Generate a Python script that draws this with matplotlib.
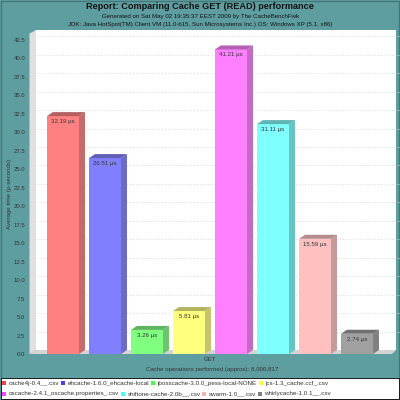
import matplotlib
matplotlib.use("Agg")
import matplotlib.pyplot as plt
from matplotlib.patches import Rectangle, Polygon
from matplotlib.transforms import Affine2D

plt.rcParams['font.family'] = ['Liberation Sans', 'DejaVu Sans']

names = ["cache4j-0.4__.csv", "ehcache-1.6.0_ehcache-local", "jbosscache-3.0.0_pess-local-NONE",
         "jcs-1.3_cache.ccf_.csv", "oscache-2.4.1_oscache.properties_.csv", "shiftone-cache-2.0b__.csv",
         "swarm-1.0__.csv", "whirlycache-1.0.1__.csv"]
values = [32.19, 26.51, 3.26, 5.81, 41.21, 31.11, 15.59, 2.74]
labels = ["32.19 µs", "26.51 µs", "3.26 µs", "5.81 µs", "41.21 µs", "31.11 µs", "15.59 µs", "2.74 µs"]
front = ["#ff8080", "#8080ff", "#80ff80", "#ffff80", "#ff80ff", "#80ffff", "#ffc0c0", "#a0a0a0"]
side = ["#c46c6c", "#6c6cc4", "#6cc46c", "#c4c46c", "#c46cc4", "#66c4c4", "#c49a9a", "#808080"]
top = ["#b46060", "#6060b4", "#60b460", "#b4b460", "#b460b4", "#60b4b4", "#b48c8c", "#707070"]
yticks = [0, 2.5, 5, 7.5, 10, 12.5, 15, 17.5, 20, 22.5, 25, 27.5, 30, 32.5, 35, 37.5, 40, 42.5]

W = H = 400
teal = "#5f9ea0"
txt = "#333333"
fig = plt.figure(figsize=(4, 4), dpi=100, facecolor=teal)

def px_axes(x0, ytop, x1, ybot):
    return fig.add_axes([x0 / W, 1 - ybot / H, (x1 - x0) / W, (ybot - ytop) / H])

# Page furniture
bg = fig.add_axes([0, 0, 1, 1], zorder=0)
bg.set_xlim(0, W); bg.set_ylim(H, 0); bg.axis("off")
bg.add_patch(Rectangle((0.5, 0.5), 398.5, 398.5, fc="none", ec="#44777a", lw=1.0))
bg.add_patch(Rectangle((1, 377.5), 397.5, 21, fc="white", ec="black", lw=0.6))
bg.add_patch(Polygon([(29.5, 33.5), (36, 30), (36, 350), (29.5, 354)], fc="#e0e0e0", ec="none"))
bg.add_patch(Rectangle((36, 30), 360, 320, fc="white", ec="none"))
bg.add_patch(Polygon([(29.5, 354), (36, 350), (396, 350), (392, 354)], fc="#d4d4d4", ec="none"))

# Main axes: the front plane
ax = px_axes(29.5, 33.5, 392, 354)
ax.patch.set_alpha(0)
px_per_unit = 320.5 / 43.37
ax.set_ylim(0, 320.5 / px_per_unit)
ax.set_xlim((29.5 - 63) / 42, (392 - 63) / 42)
for s in ax.spines.values():
    s.set_visible(False)
ax.set_yticks(yticks)
ax.set_yticklabels([f"{t:.1f}" for t in yticks], fontsize=4.3, color=txt)
ax.tick_params(axis="y", length=0, pad=3)
ax.set_xticks([3.5])
ax.set_xticklabels(["GET"], fontsize=4.3, color=txt)
ax.tick_params(axis="x", length=0, pad=2.5)
ax.set_ylabel("Average time (µ-seconds)", fontsize=4.4, color=txt, va="center")
ax.yaxis.set_label_coords(-0.054, 0.5)
ax.set_xlabel("Cache operations performed (approx): 8,000,817", fontsize=4.4, color=txt, va="center")
ax.xaxis.set_label_coords(0.505, -0.048)

# Grid lines on the back wall
back = ax.transData + Affine2D().translate(6.5, 3.8)
for t in yticks[1:]:
    ax.plot([ax.get_xlim()[0], ax.get_xlim()[1]], [t, t], transform=back, color="#dddddd",
            lw=0.6, ls=(0, (1.5, 2)), zorder=1, clip_on=False)

# Bars
bw = 32 / 42
dx, dy = 6 / 42, 4 / px_per_unit
xs = list(range(len(values)))
ax.bar(xs, values, width=bw, color=front, zorder=3)
for x, v, cs, ct, lab in zip(xs, values, side, top, labels):
    r = x + bw / 2
    l = x - bw / 2
    ax.add_patch(Polygon([(r, 0), (r + dx, dy), (r + dx, v + dy), (r, v)], fc=cs, ec="none", zorder=3))
    ax.add_patch(Polygon([(l, v), (l + dx, v + dy), (r + dx, v + dy), (r, v)], fc=ct, ec="none", zorder=3))
    ax.annotate(lab, (x, v), xytext=(0, -2), textcoords="offset points", ha="center", va="top",
                fontsize=4.4, color=txt, zorder=5)

# Titles
fig.text(0.5, 1 - 6.5 / H, "Report: Comparing Cache GET (READ) performance", ha="center", va="center",
         fontsize=6.6, fontweight="bold", color="#111111")
fig.text(0.5, 1 - 16.5 / H, "Generated on Sat May 02 19:35:37 EEST 2009 by The CacheBenchFwk", ha="center", va="center",
         fontsize=4.4, color="#111111")
fig.text(0.5, 1 - 24.5 / H, "JDK: Java HotSpot(TM) Client VM (11.0-b15, Sun Microsystems Inc.) OS: Windows XP (5.1, x86)",
         ha="center", va="center", fontsize=4.4, color="#111111")

# Legend
bright = ["#ff4040", "#4040ff", "#40ff40", "#ffff40", "#ff40ff", "#40ffff", "#ffb0b0", "#808080"]
leg_x = [[4, 63, 153, 261], [4, 123, 204, 260]]
row_y = [383, 394]
k = 0
for ry, xr in zip(row_y, leg_x):
    for lx in xr:
        bg.add_patch(Rectangle((lx - 2, ry - 2), 4, 4, fc=bright[k], ec="none", zorder=4))
        bg.text(lx + 4.5, ry, names[k], fontsize=4.5, color=txt, va="center", ha="left", zorder=5)
        k += 1

fig.savefig("out.png", dpi=100, facecolor=fig.get_facecolor())
